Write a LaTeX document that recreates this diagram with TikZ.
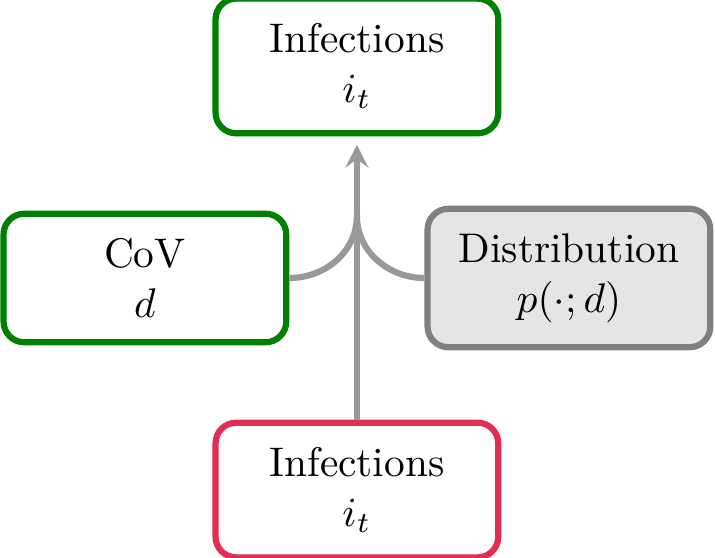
\documentclass[tikz,border=0pt]{standalone}
\usepackage{amsmath,amssymb}
\usepackage{tikz}
\usetikzlibrary{arrows.meta, positioning, calc}
\usepackage{xcolor}

\definecolor{infgreen}{RGB}{0,128,0}
\definecolor{infred}{RGB}{227,46,84}

\begin{document}
\begin{tikzpicture}[
    font=\normalsize,
    node distance=1.8cm,
    on grid,
    box/.style={draw, rounded corners=5pt, line width=1.5pt, align=center, inner xsep=5pt, inner ysep=6pt, minimum width=2.4cm, fill=white},
    flow/.style={draw=black!40, line width=1.5pt}
]

\useasboundingbox (-3.03,0.56) rectangle (3.04,-4.17);

% Output (top)
\node[box, draw=infgreen] (infout) {Infections\\$i_t$};

% Middle row
\node[box, draw=infgreen, below left=1.8cm and 1.8cm of infout] (cov) {CoV\\$d$};
\node[box, draw=gray, fill=gray!20, below right=1.8cm and 1.8cm of infout] (dist) {Distribution\\$p(\cdot;d)$};

% Input (bottom)
\node[box, draw=infred, below=3.6cm of infout] (infin) {Infections\\$i_t$};

% Merge point on the main line
\coordinate (join) at ($(infout |- cov)+(0,0.53)$);

% Connections
\draw[flow, -{Stealth[length=5.5pt, width=5.5pt, inset=2pt]}, shorten >=2pt] (infin) -- (infout);
\draw[flow] (cov.east) to[out=0, in=-90] (join);
\draw[flow] (dist.west) to[out=180, in=-90] (join);

\end{tikzpicture}
\end{document}
